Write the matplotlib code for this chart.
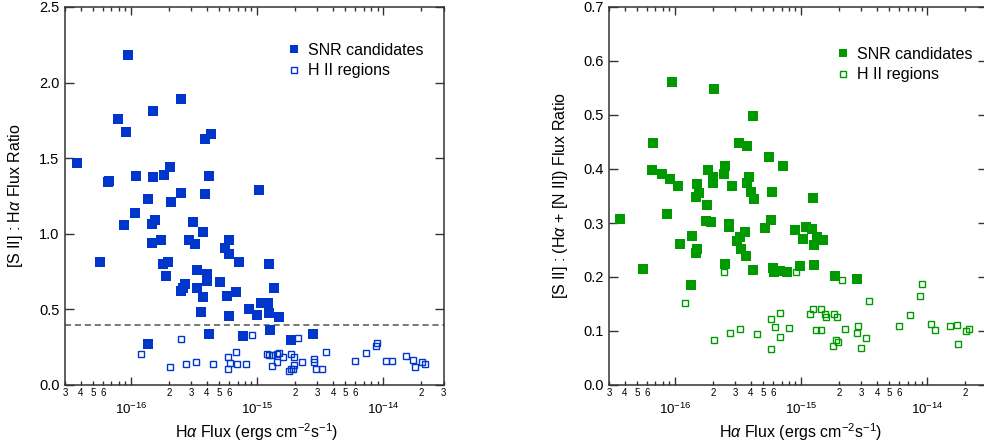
import numpy as np
import matplotlib
matplotlib.use("Agg")
import matplotlib.pyplot as plt
from matplotlib.ticker import FuncFormatter, FixedLocator, NullLocator
from matplotlib.lines import Line2D

plt.rcParams['font.family'] = ['Liberation Sans', 'DejaVu Sans']
plt.rcParams['mathtext.fontset'] = 'custom'
plt.rcParams['mathtext.rm'] = 'Liberation Sans'
plt.rcParams['mathtext.it'] = 'Liberation Sans:italic'
plt.rcParams['mathtext.bf'] = 'Liberation Sans:bold'

# ---------------- data (flux in units of 1e-16 erg cm^-2 s^-1) ----------------
snr_flux_L = [0.373, 0.95, 2.47, 1.50, 0.79, 0.91, 3.85, 4.27, 0.665, 0.66,
              1.087, 1.49, 1.84, 2.04, 4.17, 2.47, 3.85, 1.37, 2.06, 1.07,
              0.874, 1.54, 1.48, 3.1, 3.74, 1.47, 1.74, 2.86, 3.23, 5.97,
              5.61, 5.94, 7.2, 0.564, 1.78, 1.98, 1.91, 3.33, 3.97, 4.02,
              5.12, 2.69, 2.58, 2.5, 3.31, 3.69, 5.79, 6.78, 8.6, 3.58,
              6.0, 4.19, 1.36, 7.7, 10.4, 12.45, 13.5, 10.8, 12.3, 9.95,
              12.5, 15.0, 12.7, 18.6, 27.7]
snr_sii_ha = [1.47, 2.18, 1.89, 1.81, 1.76, 1.67, 1.63, 1.66, 1.35, 1.34,
              1.38, 1.375, 1.39, 1.44, 1.38, 1.27, 1.26, 1.23, 1.21, 1.135,
              1.06, 1.09, 1.065, 1.08, 1.015, 0.937, 0.96, 0.96, 0.93, 0.957,
              0.904, 0.865, 0.816, 0.816, 0.80, 0.816, 0.72, 0.76, 0.737, 0.69,
              0.682, 0.666, 0.644, 0.624, 0.642, 0.58, 0.59, 0.618, 0.505, 0.481,
              0.455, 0.34, 0.27, 0.327, 1.29, 0.80, 0.64, 0.545, 0.545, 0.466,
              0.475, 0.448, 0.367, 0.30, 0.338]

hii_flux_L = [2.47, 1.19, 2.04, 2.75, 3.29, 4.43, 5.85, 6.82, 6.15, 5.83,
              6.9, 8.13, 9.1, 11.9, 12.5, 13.0, 14.3, 15.0, 16.0, 18.6,
              19.5, 14.5, 13.1, 18.0, 18.5, 19.4, 19.6, 22.6, 28.0, 28.3,
              29.3, 32.5, 35.2, 60.0, 72.6, 87.0, 89.8, 106.0, 117.0, 151.0,
              171.0, 178.0, 201.0, 215.0, 21.0]
hii_sii_ha = [0.307, 0.208, 0.122, 0.142, 0.149, 0.138, 0.188, 0.219, 0.145, 0.107,
              0.142, 0.142, 0.331, 0.204, 0.20, 0.20, 0.204, 0.21, 0.188, 0.204,
              0.186, 0.149, 0.127, 0.094, 0.103, 0.109, 0.129, 0.155, 0.173, 0.151,
              0.109, 0.109, 0.217, 0.162, 0.21, 0.259, 0.281, 0.16, 0.16, 0.195,
              0.166, 0.118, 0.153, 0.142, 0.312]

snr_flux_R = [0.947, 2.05, 0.67, 0.66, 0.79, 0.91, 1.06, 1.84, 1.99, 2.01,
              2.48, 2.44, 2.85, 3.2, 3.74, 1.49, 1.55, 1.47, 4.13, 5.58,
              7.14, 3.84, 3.70, 3.98, 4.23, 5.84, 12.4, 5.8, 5.14, 3.59,
              3.27, 3.12, 3.31, 3.65, 4.17, 5.94, 6.05, 6.8, 7.67, 9.84,
              12.7, 8.88, 10.9, 12.3, 10.4, 12.6, 13.4, 15.0, 18.5, 27.7,
              0.369, 0.561, 0.87, 1.09, 1.36, 1.35, 1.49, 1.47, 1.78, 1.75,
              1.92, 2.66, 2.69, 2.5]
snr_sii_hanii = [0.562, 0.5475, 0.448, 0.399, 0.391, 0.381, 0.369, 0.398, 0.386, 0.375,
                 0.406, 0.391, 0.369, 0.449, 0.443, 0.372, 0.356, 0.349, 0.4975, 0.4217,
                 0.406, 0.386, 0.375, 0.358, 0.345, 0.358, 0.347, 0.3056, 0.291, 0.283,
                 0.2735, 0.267, 0.251, 0.239, 0.213, 0.216, 0.21, 0.211, 0.21, 0.221,
                 0.2216, 0.287, 0.293, 0.289, 0.27, 0.26, 0.2746, 0.268, 0.2025, 0.197,
                 0.307, 0.2148, 0.316, 0.262, 0.276, 0.185, 0.252, 0.244, 0.334, 0.304,
                 0.302, 0.298, 0.293, 0.2246]

hii_flux_R = [2.46, 1.19, 2.03, 2.73, 3.26, 9.1, 20.9, 34.7, 90.0, 86.9,
              72.4, 59.9, 107.0, 116.0, 152.0, 171.0, 176.0, 201.0, 215.0, 4.44,
              5.8, 6.8, 6.17, 6.8, 5.77, 8.05, 11.7, 12.5, 14.5, 15.5,
              15.7, 18.2, 19.1, 13.1, 14.3, 22.4, 28.3, 27.9, 32.6, 29.9,
              18.9, 19.5, 18.0]
hii_sii_hanii = [0.209, 0.152, 0.083, 0.097, 0.103, 0.209, 0.194, 0.155, 0.187, 0.165,
                 0.13, 0.11, 0.1135, 0.102, 0.11, 0.112, 0.076, 0.10, 0.104, 0.094,
                 0.122, 0.134, 0.108, 0.088, 0.066, 0.105, 0.1315, 0.14, 0.14, 0.1315,
                 0.1265, 0.131, 0.126, 0.102, 0.102, 0.103, 0.109, 0.096, 0.0865, 0.068,
                 0.083, 0.079, 0.072]

FLUX_UNIT = 1e-16
threshold = 0.4
xlim = (3e-17, 3e-14)

blue = '#0036cc'
green = '#009a00'
spine_col = '#333333'

fig = plt.figure(figsize=(9.84, 4.46), dpi=100)
W, H = 984.0, 446.0
ax1 = fig.add_axes([65 / W, 1 - 385 / H, 378.5 / W, 378 / H])
ax2 = fig.add_axes([609 / W, 1 - 385 / H, 378.5 / W, 378 / H])

# tick positions inside the visible range only
decades = [1e-17, 1e-16, 1e-15, 1e-14]
major_ticks = [d for d in decades if xlim[0] <= d <= xlim[1] * 1.0001]
minor_ticks = [m * d for d in decades for m in range(2, 10)
               if xlim[0] * 0.9999 <= m * d <= xlim[1] * 1.0001]


def minor_fmt(x, pos):
    e = np.floor(np.log10(x) + 1e-9)
    m = int(round(x / 10 ** e))
    return str(m) if m in (2, 3, 4, 5, 6) else ''


def major_fmt(x, pos):
    e = int(round(np.log10(x)))
    return r'$10^{%d}$' % e


def style(ax, ymax, ystep):
    ax.set_xscale('log')
    ax.set_xlim(*xlim)
    ax.set_ylim(0, ymax)
    ax.xaxis.set_major_locator(FixedLocator(major_ticks))
    ax.xaxis.set_minor_locator(FixedLocator(minor_ticks))
    ax.xaxis.set_major_formatter(FuncFormatter(major_fmt))
    ax.xaxis.set_minor_formatter(FuncFormatter(minor_fmt))
    ax.yaxis.set_major_locator(FixedLocator(np.round(np.arange(0, ymax + 1e-9, ystep), 3)))
    ax.yaxis.set_minor_locator(NullLocator())
    ax.yaxis.set_major_formatter(FuncFormatter(lambda v, p: '%.1f' % v))
    ax.tick_params(axis='both', which='both', direction='in', top=True, right=True,
                   color=spine_col, width=1.0)
    ax.tick_params(axis='x', which='major', length=6, pad=12, labelsize=9.6)
    ax.tick_params(axis='x', which='minor', length=3, pad=2, labelsize=7)
    ax.tick_params(axis='y', which='major', length=6.5, pad=4, labelsize=10.5)
    for s in ax.spines.values():
        s.set_color(spine_col)
        s.set_linewidth(1.1)
    ax.set_xlabel(r'H$\alpha$ Flux (ergs cm$^{-2}$s$^{-1}$)', fontsize=11.5)
    ax.xaxis.set_label_coords(0.505, -0.096)


def plot_panel(ax, fs, rs, fh, rh, col):
    ax.plot(np.array(fs) * FLUX_UNIT, rs, 's', color=col, markersize=6.6, mew=0,
            linestyle='none', label='SNR candidates', zorder=3)
    ax.plot(np.array(fh) * FLUX_UNIT, rh, 's', mfc='none', mec=col, markersize=5.0,
            mew=1.0, linestyle='none', label='H II regions', zorder=3)


plot_panel(ax1, snr_flux_L, snr_sii_ha, hii_flux_L, hii_sii_ha, blue)
style(ax1, 2.5, 0.5)
ax1.axhline(threshold, color='#555555', linestyle=(0, (4, 2.5)), linewidth=1.1, zorder=2)
ax1.set_ylabel(r'[S II] : H$\alpha$ Flux Ratio', fontsize=11.5)
ax1.yaxis.set_label_coords(-0.106, 0.5)

plot_panel(ax2, snr_flux_R, snr_sii_hanii, hii_flux_R, hii_sii_hanii, green)
style(ax2, 0.7, 0.1)
ax2.set_ylabel(r'[S II] : (H$\alpha$ + [N II]) Flux Ratio', fontsize=11.5)
ax2.yaxis.set_label_coords(-0.103, 0.5)

for ax, col, anchor in ((ax1, blue, (0.588, 0.906)), (ax2, green, (0.601, 0.8955))):
    handles = [Line2D([], [], marker='s', color=col, linestyle='none', markersize=6.2, mew=0),
               Line2D([], [], marker='s', mfc='none', mec=col, linestyle='none', markersize=5.0, mew=1.0)]
    ax.legend(handles, ['SNR candidates', 'H II regions'], loc='upper left',
              bbox_to_anchor=anchor, frameon=False, fontsize=11.5, handlelength=0.8,
              handletextpad=0.5, labelspacing=0.35, borderpad=0, borderaxespad=0)

fig.savefig('out.png', dpi=100)
